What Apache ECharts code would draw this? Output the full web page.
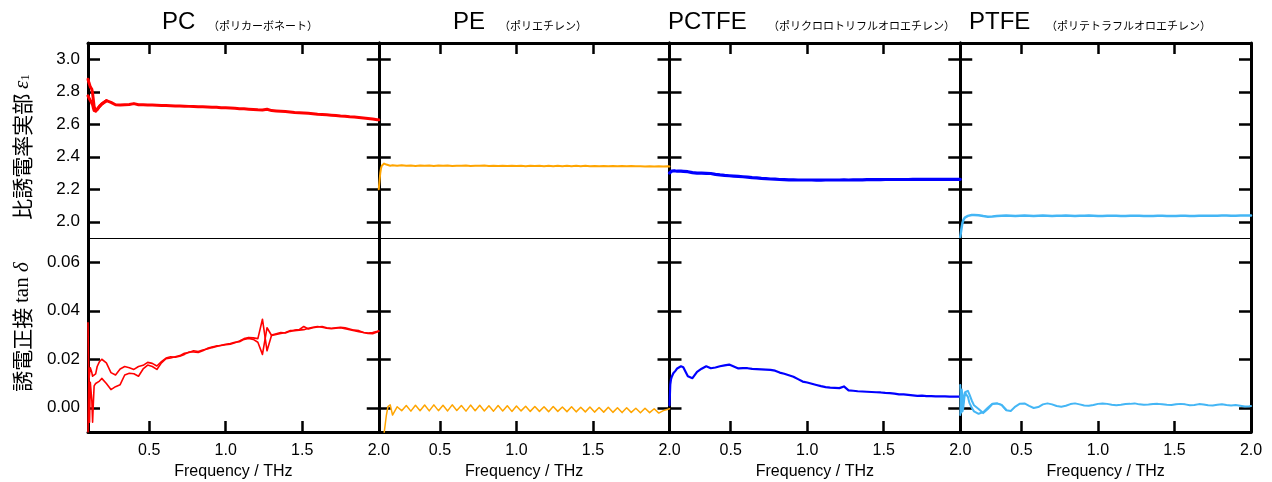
<!DOCTYPE html>
<html><head><meta charset="utf-8">
<script src="https://cdn.jsdelivr.net/npm/echarts@6/dist/echarts.min.js"></script>
<style>html,body{margin:0;padding:0;background:#fff}#c{width:1272px;height:482px}</style>
</head><body><div id="c"></div>
<script>
// ---------- DATA ----------
const FREQ = [0.100,0.105,0.110,0.115,0.120,0.125,0.130,0.135,0.140,0.150,0.160,0.175,0.190,
0.22,0.25,0.28,0.31,0.34,0.37,0.40,0.43,0.46,0.49,
0.52,0.55,0.58,0.61,0.64,0.67,0.70,0.73,0.76,0.79,
0.82,0.85,0.88,0.91,0.94,0.97,1.00,1.03,1.06,1.09,
1.12,1.15,1.18,1.21,1.24,1.27,1.30,1.33,1.36,1.39,
1.42,1.45,1.48,1.51,1.54,1.57,1.60,1.63,1.66,1.69,
1.72,1.75,1.78,1.81,1.84,1.87,1.90,1.93,1.96,1.99,
2.00];

const TITLES = ['PC','PE','PCTFE','PTFE'];
const SUBTITLES = ['（ポリカーボネート）','（ポリエチレン）','（ポリクロロトリフルオロエチレン）','（ポリテトラフルオロエチレン）'];
const X_LABELS = [0.5,1.0,1.5,2.0];
const X_TICKS = [0.5,1.0,1.5];
const EPS_TICKS = [2.0,2.2,2.4,2.6,2.8,3.0];
const TAN_TICKS = [0.00,0.02,0.04,0.06];
const X_NAME = 'Frequency / THz';

const PC_EPS_A = [2.877,2.86,2.845,2.83,2.822,2.815,2.79,2.75,2.71,2.68,2.69,2.71,2.725,
2.745,2.735,2.72,2.718,2.72,2.722,2.727,2.72,2.72,2.719,
2.718,2.717,2.716,2.715,2.714,2.713,2.712,2.711,2.71,2.709,
2.708,2.707,2.706,2.705,2.704,2.702,2.701,2.70,2.698,2.696,
2.695,2.693,2.691,2.689,2.688,2.692,2.684,2.682,2.68,2.678,
2.676,2.673,2.671,2.669,2.667,2.665,2.662,2.66,2.658,2.656,
2.654,2.651,2.649,2.646,2.644,2.641,2.638,2.635,2.632,2.628,
2.627];
const PC_EPS_B = [2.775,2.765,2.755,2.745,2.738,2.73,2.72,2.70,2.685,2.68,2.69,2.71,2.725,2.745];

const PC_TAN_A = [0.035,0.011,0.014,0.0165,0.016,0.0145,0.013,0.0135,0.0125,0.014,0.017,0.019,0.020,
0.0185,0.0145,0.0135,0.016,0.017,0.0165,0.0158,0.017,0.0175,0.0187,
0.0183,0.0172,0.019,0.0205,0.021,0.0208,0.0212,0.022,0.023,0.023,
0.0228,0.0235,0.0245,0.025,0.0255,0.0257,0.026,0.0262,0.0268,0.0275,
0.0285,0.029,0.0288,0.0285,0.0365,0.0235,0.030,0.0305,0.031,0.0308,
0.0315,0.032,0.0322,0.0335,0.0325,0.033,0.0333,0.0335,0.033,0.0328,
0.033,0.0332,0.033,0.0325,0.032,0.0318,0.031,0.0308,0.031,0.0315,
0.0317];
const PC_TAN_B = [-0.010,0.0114,-0.006,0.0105,0.011,0.003,-0.006,0.002,0.009,0.010,0.0105,0.011,0.0121,
0.010,0.0075,0.0087,0.0095,0.0135,0.0142,0.014,0.013,0.016,0.0176,
0.017,0.0158,0.0185,0.0202,0.0205,0.021,0.0215,0.0225,0.0228,0.0235,
0.0232,0.0238,0.0242,0.0248,0.0253,0.0258,0.0262,0.0265,0.027,0.0272,
0.0282,0.0286,0.0282,0.027,0.022,0.033,0.0298,0.0302,0.0306,0.031,
0.0318,0.0318,0.032,0.0322,0.0328,0.0332,0.0335,0.0332,0.0328,0.0326,
0.0328,0.033,0.0326,0.0322,0.0318,0.0314,0.031,0.0306,0.0305,0.0312,
0.0315];

const PE_EPS = [2.20,2.25,2.30,2.33,2.345,2.352,2.356,2.358,2.357,2.352,2.347,2.345,2.347,
2.344,2.347,2.344,2.346,2.343,2.346,2.344,2.346,2.343,2.346,
2.344,2.346,2.343,2.345,2.344,2.346,2.343,2.345,2.344,2.346,
2.343,2.345,2.343,2.345,2.343,2.345,2.343,2.345,2.342,2.345,
2.343,2.344,2.342,2.344,2.342,2.344,2.342,2.344,2.342,2.344,
2.342,2.344,2.341,2.343,2.341,2.343,2.341,2.343,2.341,2.343,
2.341,2.343,2.341,2.342,2.340,2.342,2.340,2.342,2.340,2.341,
2.340];
const PE_TAN = [-0.013,-0.013,-0.013,-0.013,-0.013,-0.013,-0.012,-0.0105,-0.008,-0.003,0.0005,0.0012,-0.003,
0.0004,-0.0012,0.0009,-0.0014,0.001,-0.0012,0.0011,-0.0013,0.0012,-0.0012,
0.001,-0.0013,0.0012,-0.0011,0.0009,-0.0014,0.0011,-0.0012,0.001,-0.0013,
0.0008,-0.0014,0.0009,-0.0013,0.0008,-0.0015,0.0007,-0.0013,0.0006,-0.0015,
0.0005,-0.0015,0.0004,-0.0016,0.0005,-0.0015,0.0003,-0.0016,0.0004,-0.0017,
0.0002,-0.0017,0.0003,-0.0018,0.0001,-0.0018,0.0002,-0.0019,0.0,-0.002,
0.0,-0.0019,-0.0002,-0.0021,-0.0002,-0.002,-0.0004,-0.0022,-0.0012,-0.0006,
-0.0004];

const PCTFE_EPS = [2.300,2.305,2.310,2.312,2.313,2.314,2.314,2.313,2.312,2.311,2.311,2.311,2.310,
2.308,2.302,2.299,2.299,2.298,2.297,2.292,2.288,2.285,2.283,
2.281,2.279,2.277,2.275,2.272,2.270,2.267,2.265,2.263,2.262,
2.260,2.259,2.258,2.258,2.257,2.257,2.257,2.257,2.256,2.256,
2.257,2.257,2.257,2.257,2.258,2.257,2.258,2.258,2.258,2.259,
2.259,2.259,2.259,2.260,2.260,2.260,2.260,2.260,2.260,2.261,
2.261,2.261,2.261,2.261,2.261,2.261,2.261,2.261,2.261,2.261,
2.261];
const PCTFE_TAN = [0.001,0.0095,0.0118,0.0128,0.0136,0.0142,0.0146,0.0149,0.0153,0.0162,0.0169,0.0171,0.0167,
0.013,0.0122,0.0148,0.0161,0.0171,0.0163,0.0166,0.0171,0.0175,0.0178,
0.017,0.0162,0.0163,0.0163,0.016,0.0159,0.0158,0.0157,0.0156,0.0153,
0.0145,0.014,0.0134,0.0128,0.0118,0.0108,0.0104,0.0099,0.0094,0.0089,
0.0085,0.0083,0.0082,0.0081,0.0088,0.0072,0.0070,0.0068,0.0067,0.0066,
0.0065,0.0064,0.0063,0.0061,0.006,0.0058,0.0055,0.0055,0.0053,0.0051,
0.0049,0.005,0.0048,0.0048,0.0047,0.0047,0.0047,0.0046,0.0046,0.0046,
0.0046];

const PTFE_EPS = [1.905,1.94,1.97,1.995,2.01,2.02,2.026,2.03,2.032,2.036,2.039,2.041,2.042,
2.04,2.035,2.031,2.033,2.036,2.037,2.038,2.037,2.036,2.037,
2.038,2.037,2.036,2.037,2.038,2.037,2.036,2.037,2.037,2.038,
2.037,2.036,2.037,2.037,2.038,2.037,2.036,2.036,2.037,2.037,
2.037,2.036,2.036,2.037,2.037,2.037,2.036,2.036,2.036,2.037,
2.037,2.036,2.036,2.036,2.037,2.037,2.036,2.036,2.037,2.037,
2.037,2.037,2.037,2.038,2.038,2.037,2.037,2.038,2.038,2.038,
2.038];
const PTFE_TAN_A = [0.0094,-0.002,0.004,-0.0015,0.0,0.003,0.0055,0.0065,0.007,0.007,0.0055,0.003,0.001,
-0.0005,-0.0022,-0.0005,0.0015,0.0018,0.0012,-0.001,-0.0013,0.0005,0.0017,
0.0018,0.0008,-0.0001,0.0003,0.0014,0.0018,0.0014,0.0007,0.0004,0.0008,
0.0015,0.0018,0.0014,0.0009,0.0008,0.0011,0.0016,0.0018,0.0016,0.0012,
0.001,0.0012,0.0015,0.0016,0.0018,0.0014,0.0012,0.0013,0.0015,0.0016,
0.0014,0.0012,0.0011,0.0014,0.0016,0.0014,0.001,0.0011,0.0015,0.0013,
0.001,0.0009,0.0012,0.0014,0.0011,0.0009,0.0011,0.0008,0.0005,0.0006,
0.0007];
const PTFE_TAN_B = [-0.003,0.006,0.0075,0.004,0.002,0.0045,0.0063,0.0068,0.0065,0.0045,0.002,0.0,-0.0015,
-0.0025,-0.0018,0.0,0.0017,0.0018,0.0012,-0.0008];

// ---------- CHART ----------
const chart = echarts.init(document.getElementById('c'));
const L0 = 88, R0 = 1251, PW = (R0 - L0) / 4;
const TOP = 43, MID = 238, BOT = 432;
const FONT = '"Liberation Sans", Arial, sans-serif';
const JP = '"Noto Sans CJK JP", sans-serif';
const SERIF = '"Liberation Serif", "DejaVu Serif", serif';

const panels = [
  {eps: [PC_EPS_A, PC_EPS_B], tan: [PC_TAN_A, PC_TAN_B], color: '#ff0000', we: 3, wt: 1.6},
  {eps: [PE_EPS], tan: [PE_TAN], color: '#ffa500', we: 2, wt: 1.5},
  {eps: [PCTFE_EPS], tan: [PCTFE_TAN], color: '#0000ff', we: 3.2, wt: 2.2},
  {eps: [PTFE_EPS], tan: [PTFE_TAN_A, PTFE_TAN_B], color: '#44b6f5', we: 2.5, wt: 2}
];
const pts = arr => arr.map((v, i) => [FREQ[i], v]);

const grids = [], xAxes = [], yAxes = [], series = [];
for (let r = 0; r < 2; r++) {
  for (let c = 0; c < 4; c++) {
    const g = r * 4 + c;
    grids.push({left: L0 + c * PW, width: PW, top: r === 0 ? TOP : MID, height: r === 0 ? MID - TOP : BOT - MID});
    xAxes.push({
      gridIndex: g, type: 'value', min: 0.1, max: 2.0,
      position: r === 0 ? 'top' : 'bottom',
      axisLine: {show: true, onZero: false, lineStyle: {color: '#000', width: 3}},
      axisTick: {show: true, inside: true, length: 11, customValues: X_TICKS, lineStyle: {color: '#000', width: 2.5}},
      axisLabel: {show: r === 1, customValues: X_LABELS, formatter: v => v.toFixed(1), color: '#000', fontSize: 16, fontFamily: FONT, margin: 11},
      splitLine: {show: false},
      name: r === 1 ? X_NAME : '', nameLocation: 'middle', nameGap: 32,
      nameTextStyle: {color: '#000', fontSize: 16, fontFamily: FONT}
    });
    const ticks = r === 0 ? EPS_TICKS : TAN_TICKS;
    const mn = r === 0 ? 1.9 : -0.01, mx = r === 0 ? 3.1 : 0.07;
    const fmt = r === 0 ? (v => v.toFixed(1)) : (v => v.toFixed(2));
    ['left', 'right'].forEach(pos => {
      yAxes.push({
        gridIndex: g, type: 'value', min: mn, max: mx, position: pos,
        axisLine: {show: true, onZero: false, lineStyle: {color: '#000', width: 3}},
        axisTick: {show: true, inside: true, length: 12, customValues: ticks, lineStyle: {color: '#000', width: 2.5}},
        axisLabel: {show: pos === 'left' && c === 0, customValues: ticks, formatter: fmt, color: '#000', fontSize: 17, fontFamily: FONT, margin: 8},
        splitLine: {show: false}
      });
    });
    const p = panels[c];
    const arrs = r === 0 ? p.eps : p.tan;
    arrs.forEach(a => series.push({
      type: 'line', xAxisIndex: g, yAxisIndex: 2 * g, data: pts(a),
      symbol: 'none', silent: true, clip: true,
      lineStyle: {color: p.color, width: r === 0 ? p.we : p.wt, join: 'round', cap: 'round'}
    }));
  }
}

const TITLE_POS = [[162, 208], [453, 499], [668, 768], [969, 1046]];
const graphic = [
  {type: 'line', shape: {x1: L0, y1: MID + 0.5, x2: R0, y2: MID + 0.5}, style: {stroke: '#000', lineWidth: 1.2}, z: 100},
  {type: 'text', x: 22, y: 147, rotation: Math.PI / 2, z: 100, style: {
    text: '{j|比誘電率実部 }{e|ε}{s|1}', align: 'center', verticalAlign: 'middle',
    rich: {j: {font: '21px ' + JP, fill: '#000'}, e: {font: 'italic 21px ' + SERIF, fill: '#000'}, s: {font: '13px ' + SERIF, fill: '#000', verticalAlign: 'bottom', padding: [7, 0, 0, 0]}}
  }},
  {type: 'text', x: 22, y: 327, rotation: Math.PI / 2, z: 100, style: {
    text: '{j|誘電正接 }{t|tan }{d|δ}', align: 'center', verticalAlign: 'middle',
    rich: {j: {font: '21px ' + JP, fill: '#000'}, t: {font: '21px ' + SERIF, fill: '#000'}, d: {font: 'italic 21px ' + SERIF, fill: '#000'}}
  }}
];
TITLES.forEach((t, i) => {
  graphic.push({type: 'text', x: TITLE_POS[i][0], y: 22, z: 100, style: {text: t, font: '24px ' + FONT, fill: '#000', align: 'left', verticalAlign: 'middle'}});
  graphic.push({type: 'text', x: TITLE_POS[i][1], y: 26, z: 100, style: {text: SUBTITLES[i], font: '11px ' + JP, fill: '#000', align: 'left', verticalAlign: 'middle'}});
});

chart.setOption({
  animation: false,
  backgroundColor: '#fff',
  grid: grids, xAxis: xAxes, yAxis: yAxes, series: series, graphic: graphic
});
</script>
</body></html>
